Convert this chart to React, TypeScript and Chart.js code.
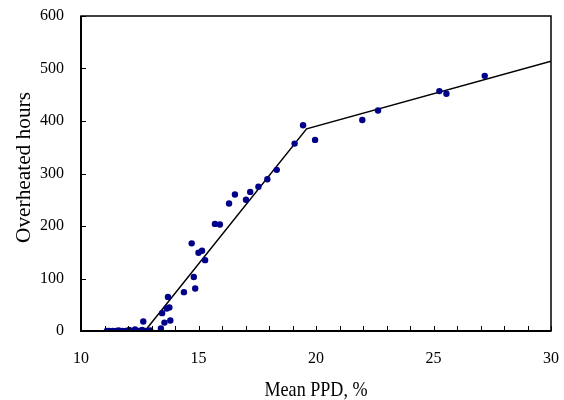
import React, { useEffect, useRef } from "react";
import { Chart, registerables } from "chart.js";

Chart.register(...registerables);

const pointX = [
  11.1, 11.2, 11.35, 11.5, 11.6, 11.75, 11.9, 12.05, 12.2, 12.3, 12.45, 12.6, 12.75, 12.85, 12.95,
  12.65, 13.4, 13.55, 13.8, 13.45, 13.65, 13.76, 13.7, 14.38, 14.86, 14.8, 14.71, 15.0, 15.15, 15.28,
  15.7, 15.91, 16.3, 16.55, 17.02, 17.2, 17.55, 17.93, 18.33, 19.09, 19.45, 19.96, 21.97, 22.64,
  25.25, 25.55, 27.18,
];
const pointY = [
  0, 0, 0, 0, 1, 0, 0, 2, 0, 3, 0, 2, 0, 0, 1,
  18, 5, 16, 20, 34, 43, 45, 65, 74, 81, 103, 167, 149, 153, 135,
  204, 203, 243, 260, 250, 265, 275, 289, 307, 357, 392, 364, 402, 420,
  457, 452, 486,
];
const fitX = [11, 12.72, 19.6, 30];
const fitY = [0, 0, 385, 514];

const xTitle = "Mean PPD, %";
const yTitle = "Overheated hours";

const FONT = "'Liberation Serif', 'Times New Roman', serif";

const frame = {
  id: "frame",
  afterDraw(chart: any) {
    const { ctx, chartArea: a, scales } = chart;
    ctx.save();
    ctx.strokeStyle = "#000";
    ctx.lineWidth = 1;
    for (let v = 10; v <= 30; v += 1) {
      const px = Math.round(scales.x.getPixelForValue(v)) + 0.5;
      ctx.beginPath();
      ctx.moveTo(px, a.bottom);
      ctx.lineTo(px, a.bottom - 5);
      ctx.stroke();
    }
    for (let v = 0; v <= 600; v += 100) {
      const py = Math.round(scales.y.getPixelForValue(v)) + 0.5;
      ctx.beginPath();
      ctx.moveTo(a.left, py);
      ctx.lineTo(a.left + 5, py);
      ctx.stroke();
    }
    ctx.lineWidth = 1.5;
    ctx.strokeRect(a.left, a.top, a.right - a.left, a.bottom - a.top);
    ctx.lineWidth = 2;
    ctx.beginPath();
    ctx.moveTo(a.left, a.top);
    ctx.lineTo(a.left, a.bottom);
    ctx.lineTo(a.right, a.bottom);
    ctx.stroke();

    // axis titles (narrow, tall serif like the reference)
    ctx.fillStyle = "#000";
    ctx.font = `21px ${FONT}`;
    ctx.textAlign = "center";
    ctx.textBaseline = "alphabetic";
    const wx = ctx.measureText(xTitle).width;
    const sx = 103 / wx;
    ctx.save();
    ctx.translate((a.left + a.right) / 2, chart.height - 4);
    ctx.scale(sx, 1);
    ctx.fillText(xTitle, 0, 0);
    ctx.restore();

    const wy = ctx.measureText(yTitle).width;
    const sy = 151 / wy;
    ctx.save();
    ctx.translate(30, (a.top + a.bottom) / 2 - 6);
    ctx.rotate(-Math.PI / 2);
    ctx.scale(sy, 1);
    ctx.fillText(yTitle, 0, 0);
    ctx.restore();
    ctx.restore();
  },
};

export default function App() {
  const ref = useRef<HTMLCanvasElement>(null);
  useEffect(() => {
    if (!ref.current) return;
    const chart = new Chart(ref.current, {
      type: "scatter",
      data: {
        datasets: [
          {
            type: "line",
            data: fitX.map((x, i) => ({ x, y: fitY[i] })),
            borderColor: "#000",
            borderWidth: 1.5,
            pointRadius: 0,
            fill: false,
            order: 2,
          } as any,
          {
            data: pointX.map((x, i) => ({ x, y: pointY[i] })),
            backgroundColor: "#000088",
            borderColor: "#000088",
            pointRadius: 3.2,
            borderWidth: 0,
            order: 1,
          },
        ],
      },
      plugins: [frame],
      options: {
        animation: false,
        responsive: false,
        maintainAspectRatio: false,
        layout: { padding: { left: 0, right: 13, top: 16, bottom: 0 } },
        plugins: { legend: { display: false }, tooltip: { enabled: false } },
        scales: {
          x: {
            type: "linear",
            min: 10,
            max: 30,
            grid: { display: false, drawTicks: false },
            border: { display: false },
            ticks: {
              stepSize: 5,
              padding: 18,
              color: "#000",
              font: { family: FONT, size: 16 },
              maxRotation: 0,
            },
            title: { display: false },
            afterFit(s: any) {
              s.height = 69;
              s.paddingLeft = 0;
              s.paddingRight = 0;
            },
          },
          y: {
            min: 0,
            max: 600,
            grid: { display: false, drawTicks: false },
            border: { display: false },
            ticks: {
              stepSize: 100,
              padding: 17,
              color: "#000",
              font: { family: FONT, size: 16 },
            },
            title: { display: false },
            afterFit(s: any) {
              s.width = 81;
              s.paddingTop = 0;
              s.paddingBottom = 0;
            },
          },
        },
      } as any,
    });
    return () => chart.destroy();
  }, []);
  return (
    <div style={{ position: "absolute", left: 0, top: 0, width: 564, height: 400, background: "#fff" }}>
      <canvas ref={ref} width={564} height={400} style={{ width: 564, height: 400 }} />
    </div>
  );
}
